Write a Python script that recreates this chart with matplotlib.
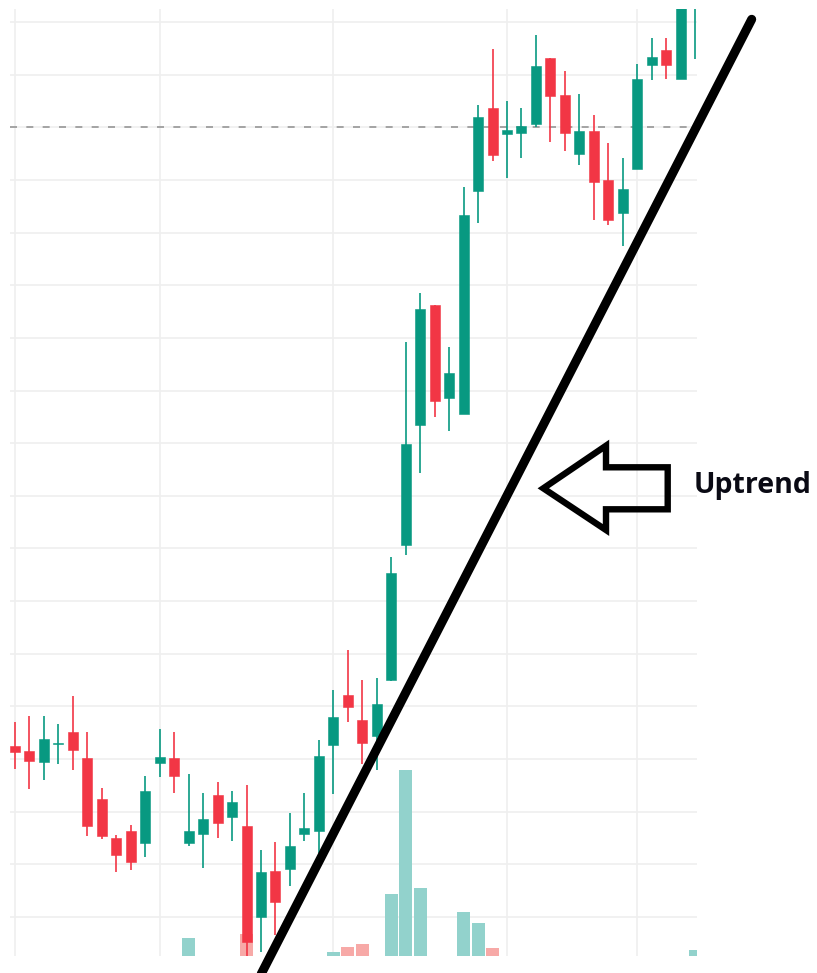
import matplotlib
matplotlib.use("Agg")
import matplotlib.pyplot as plt
from matplotlib.patches import Polygon
import numpy as np

# ---- data (price units) ----
opens  = [21.62, 21.58, 21.47, 21.64, 21.76, 21.51, 21.12, 20.75, 20.82, 20.70,
          21.46, 21.51, 20.70, 20.79, 21.16, 20.95, 20.86, 20.00, 20.44, 20.46,
          20.79, 20.82, 21.63, 22.11, 21.87, 21.72, 22.25, 23.53, 24.67, 25.81,
          24.93, 24.78, 26.89, 27.68, 27.44, 27.45, 27.53, 28.16, 27.81, 27.25,
          27.46, 27.00, 26.69, 27.10, 28.09, 28.23, 27.96, 28.75]
highs  = [21.85, 21.91, 21.91, 21.83, 22.10, 21.76, 21.23, 20.78, 20.87, 21.34,
          21.79, 21.76, 21.36, 21.18, 21.28, 21.20, 21.25, 20.64, 20.71, 20.99,
          21.18, 21.68, 22.16, 22.54, 22.25, 22.27, 23.42, 25.46, 25.93, 25.81,
          25.41, 26.93, 27.71, 28.24, 27.75, 27.68, 28.38, 28.16, 28.03, 27.82,
          27.62, 27.35, 27.21, 28.10, 28.35, 28.35, 28.80, 29.10]
lows   = [21.41, 21.22, 21.30, 21.45, 21.40, 20.77, 20.74, 20.43, 20.45, 20.57,
          21.33, 21.18, 20.67, 20.47, 20.75, 20.72, 19.63, 19.67, 19.83, 20.29,
          20.72, 20.61, 21.17, 21.85, 21.45, 21.40, 22.24, 23.44, 24.22, 24.75,
          24.62, 24.78, 26.59, 27.18, 27.02, 27.21, 27.50, 27.36, 27.27, 27.14,
          26.62, 26.57, 26.37, 27.10, 27.95, 27.96, 27.96, 28.15]
closes = [21.57, 21.48, 21.69, 21.65, 21.59, 20.86, 20.77, 20.59, 20.52, 21.20,
          21.52, 21.34, 20.82, 20.93, 20.89, 21.09, 19.76, 20.43, 20.14, 20.67,
          20.85, 21.53, 21.90, 21.99, 21.65, 22.02, 23.27, 24.49, 25.77, 24.90,
          25.17, 26.67, 27.60, 27.24, 27.47, 27.51, 28.08, 27.80, 27.45, 27.46,
          26.98, 26.62, 26.91, 27.96, 28.17, 28.09, 28.72, 29.00]
volumes = [0, 0, 0, 0, 0, 0, 0, 0, 0, 0,
           0, 0, 177, 0, 0, 0, 220, 0, 0, 0,
           0, 0, 43, 90, 120, 0, 620, 1860, 677, 0,
           0, 443, 327, 77, 0, 0, 0, 0, 0, 0,
           0, 0, 0, 0, 0, 0, 0, 60]
grid_prices = [20.0, 20.5, 21.0, 21.5, 22.0, 22.5, 23.0, 23.5, 24.0,
               24.5, 25.0, 25.5, 26.0, 26.5, 27.0, 27.5, 28.0, 28.5]
vgrid_idx = [0, 10, 22, 34, 43]
ref_level = 27.5
label = "Uptrend"

# ---- style ----
UP, DOWN = "#089981", "#F23645"
VUP, VDOWN = "#92D2CC", "#F7A9A7"
GRID = "#EFEFEF"

W, H = 817, 973
fig = plt.figure(figsize=(W / 100, H / 100), dpi=100)
fig.patch.set_facecolor("white")

ax_rect = [10 / W, 17 / H, 687 / W, 946.7 / H]
axv = fig.add_axes(ax_rect, zorder=1)
ax = fig.add_axes(ax_rect, zorder=2, sharex=axv)
ax.patch.set_visible(False)

x = np.arange(len(opens))
o = np.array(opens); c = np.array(closes)
hi = np.array(highs); lo = np.array(lows)
up = c >= o
cols = np.where(up, UP, DOWN)

ax.set_xlim(-0.3455, 47.13)
ax.set_ylim(19.63, 28.62)

# grid (drawn on the lower axes so the volume bars cover it)
axv.hlines(grid_prices, -1, 49, colors=GRID, lw=1.2, zorder=0,
           transform=ax.transData)
for gi in vgrid_idx:
    axv.axvline(gi, color=GRID, lw=1.2, zorder=0)

# volume
vcols = np.where(up, VUP, VDOWN)
axv.bar(x, volumes, width=0.9, color=vcols, linewidth=0, zorder=1)
axv.set_ylim(0, 9467)
axv.axis("off")

# reference dashed line
ax.axhline(ref_level, color="#A3A3A3", lw=1.4, dashes=(3.6, 4.8), zorder=1)

# candles
ax.vlines(x, lo, hi, colors=cols, lw=1.2, zorder=2)
bottoms = np.minimum(o, c)
heights = np.maximum(np.abs(c - o), 0.012)
ax.bar(x, heights, bottom=bottoms, width=0.69, color=cols, edgecolor=cols,
       linewidth=0.4, zorder=3)
ax.axis("off")

# ---- annotation overlay (figure pixel space) ----
ao = fig.add_axes([0, 0, 1, 1], zorder=10)
ao.patch.set_visible(False)
ao.set_xlim(0, W); ao.set_ylim(H, 0)
ao.axis("off")
ao.plot([255.5, 751.7], [985, 19.3], color="black", lw=6.5,
        solid_capstyle="round", clip_on=False)
arrow = Polygon([(543.3, 488.3), (606, 445.7), (606, 467.3), (667.7, 467.3),
                 (667.7, 509.3), (606, 509.3), (606, 530)], closed=True,
                fill=False, edgecolor="black", lw=4.6, joinstyle="miter")
ao.add_patch(arrow)
ao.text(694, 493.3, label, fontsize=20.5, fontweight="bold",
        family=["Open Sans", "DejaVu Sans"], color="#0A0A14",
        ha="left", va="baseline")

fig.savefig("out.png", dpi=100, facecolor="white")
